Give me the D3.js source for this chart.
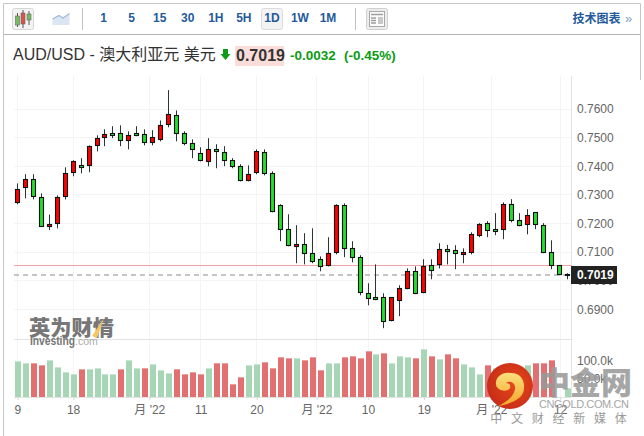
<!DOCTYPE html>
<html>
<head>
<meta charset="utf-8">
<title>AUD/USD</title>
<script src="https://d3js.org/d3.v7.min.js"></script>
<style>
html,body{margin:0;padding:0;background:#fff;}
svg{display:block;}
text{font-family:"Liberation Sans","Noto Sans CJK SC",sans-serif;}
</style>
</head>
<body>
<svg id="chart" width="644" height="436"></svg>
<script>
// Daily AUD/USD session prices
const open  = [.7274,.7326,.7354,.7291,.7190,.7201,.7295,.7379,.7403,.7403,.7473,.7501,.7515,.7515,.7491,.7515,.7512,.7484,.7494,.7547,.7578,.7515,.7480,.7445,.7417,.7459,.7449,.7421,.7400,.7351,.7379,.7449,.7375,.7263,.7180,.7120,.7127,.7096,.7075,.7054,.7099,.7263,.7113,.7082,.6956,.6942,.6942,.6862,.6932,.6974,.7033,.6960,.7054,.7057,.7110,.7106,.7092,.7099,.7159,.7201,.7180,.7180,.7267,.7211,.7197,.7239,.7194,.7099,.7054,.7024];
const high  = [.7340,.7372,.7372,.7305,.7231,.7298,.7396,.7421,.7428,.7473,.7508,.7529,.7540,.7543,.7522,.7540,.7529,.7526,.7560,.7666,.7595,.7522,.7494,.7466,.7498,.7477,.7470,.7428,.7407,.7403,.7459,.7459,.7382,.7267,.7232,.7194,.7166,.7183,.7085,.7152,.7267,.7270,.7138,.7089,.6991,.7057,.6956,.6943,.6984,.7043,.7050,.7075,.7075,.7131,.7125,.7124,.7113,.7169,.7201,.7208,.7236,.7274,.7285,.7236,.7250,.7239,.7201,.7141,.7054,.7026];
const low   = [.7267,.7288,.7284,.7189,.7177,.7183,.7284,.7365,.7375,.7379,.7452,.7470,.7498,.7470,.7459,.7505,.7473,.7473,.7487,.7536,.7487,.7473,.7428,.7417,.7400,.7393,.7400,.7393,.7347,.7347,.7372,.7368,.7239,.7138,.7120,.7061,.7057,.7061,.7033,.7050,.7092,.7082,.7064,.6949,.6914,.6932,.6834,.6858,.6876,.6970,.6953,.6956,.7005,.7043,.7057,.7040,.7061,.7092,.7152,.7152,.7159,.7145,.7204,.7190,.7162,.7180,.7096,.7040,.7019,.7005];
const close = [.7322,.7356,.7295,.7190,.7197,.7291,.7375,.7417,.7396,.7470,.7498,.7512,.7508,.7491,.7508,.7508,.7484,.7501,.7543,.7581,.7515,.7480,.7459,.7421,.7459,.7452,.7421,.7400,.7351,.7372,.7452,.7375,.7243,.7180,.7124,.7127,.7096,.7068,.7050,.7096,.7263,.7113,.7082,.6960,.6939,.6935,.6858,.6942,.6974,.7033,.6956,.7050,.7036,.7110,.7103,.7096,.7099,.7162,.7197,.7176,.7173,.7267,.7211,.7194,.7229,.7197,.7099,.7054,.7022,.7019];

// Session volume in thousands, and the colour family each bar uses
const volume = [97.4,91.2,93.8,85.8,99.2,83.1,69.7,61.7,75.1,75.1,77.8,61.7,64.3,75.1,99.2,77.8,80.4,88.5,72.4,67.0,75.1,64.3,69.7,64.3,77.8,91.2,93.8,34.9,56.3,85.8,88.5,96.5,80.4,109.9,107.2,104.6,99.2,109.9,72.4,93.8,91.2,109.9,112.6,107.2,126.0,115.3,120.6,93.8,112.6,109.9,107.2,128.7,112.6,101.9,115.3,104.6,88.5,83.1,61.7,85.8,80.4,80.4,76.0,71.5,85.8,91.2,91.2,99.2,0,26.8];
const volumeSide = "ggrrggggrggggrggrgggrrrrgrrrrggrrrrgrrrggrrrrgrgggrgrgrrgggrgggggrrrgg";

const priceTicks = [.69,.70,.71,.72,.73,.74,.75,.76];
const volumeTicks = [50,100];
const dateTickPositions = [0,7,16.56,23,30,37.53,44,51,59.47,68.1];
const dateTickLabels = ["9","18","月 '22","11","20","月 '22","10","19","月 '22","12"];
const intervals = ["1","5","15","30","1H","5H","1D","1W","1M"];

const lastPrice = 0.7019;
const previousClose = 0.7053;

const svg = d3.select("#chart");
const x = d3.scaleLinear().domain([0,69]).range([17.3,567.3]);
const y = d3.scaleLinear().domain([.69,.76]).range([309.3,109]);
const yVol = d3.scaleLinear().domain([0,100]).range([397.5,360.2]);
const snap = v => Math.floor(v)+.5;

const borderGrey = "#c6c6c6";
const gridGrey = "#f4f4f4";
const axisGrey = "#e2e2e2";
const linkBlue = "#255a9b";

// Frame and toolbar
const frame = svg.append("g").attr("fill","none");
frame.append("path").attr("stroke",borderGrey).attr("d","M3.5,436V3.5H640.5V80");
frame.append("path").attr("stroke","#b4b4b4").attr("d","M4,34.5H640");
frame.append("path").attr("stroke","#c0c0c0").attr("d","M82.5,8V30M355.5,8V30");

const bar = svg.append("g");
bar.append("rect").attr("x",12.5).attr("y",8.5).attr("width",21).attr("height",21).attr("rx",2)
  .attr("fill","#f3f3f3").attr("stroke","#d6d6d6");
const iconCandles = [[17.5,13,27,16,25,"#6fbf5f"],[23,10,28,13,24,"#e0504a"],[29,11,25,14,20,"#6fbf5f"]];
iconCandles.forEach(c=>{
  bar.append("line").attr("x1",c[0]).attr("x2",c[0]).attr("y1",c[1]).attr("y2",c[2]).attr("stroke","#555");
  bar.append("rect").attr("x",c[0]-2).attr("y",c[3]).attr("width",4).attr("height",c[4]-c[3]).attr("fill",c[5]).attr("stroke","#666").attr("stroke-width",.6);
});
bar.append("path").attr("d","M52.5,25V19L59,15.5L63,18L69.5,13.5V25Z").attr("fill","#dbe6f3");
bar.append("path").attr("d","M52.5,19L59,15.5L63,18L69.5,13.5").attr("fill","none").attr("stroke","#9dbbdd").attr("stroke-width",1.2);

bar.append("rect").attr("x",261.5).attr("y",8.5).attr("width",21).attr("height",21).attr("rx",2)
  .attr("fill","#f3f3f3").attr("stroke","#dcdcdc");
const intervalX = d3.scalePoint().domain(intervals).range([103.6,328]);
bar.selectAll("text.interval").data(intervals).join("text").attr("class","interval")
  .attr("x",d=>intervalX(d)).attr("y",22.3).attr("text-anchor","middle")
  .attr("font-size",12).attr("font-weight","bold").attr("fill",linkBlue).text(d=>d);

// Layout button
bar.append("rect").attr("x",366.5).attr("y",8.5).attr("width",21).attr("height",21).attr("rx",2)
  .attr("fill","#ececec").attr("stroke","#d0d0d0");
bar.append("rect").attr("x",369.5).attr("y",11.5).attr("width",15).attr("height",15).attr("fill","#fbfbfb").attr("stroke","#a8a8a8");
bar.append("path").attr("d","M371,14.5H383M371,18H376M371,20.5H376M371,23H376").attr("stroke","#a0a0a0").attr("stroke-width",1.4);
bar.append("rect").attr("x",378).attr("y",17).attr("width",5).attr("height",7).attr("fill","#c8c8c8");

bar.append("text").attr("x",572.5).attr("y",22.5).attr("font-size",12).attr("font-weight","bold")
  .attr("fill",linkBlue).text("技术图表");
bar.append("text").attr("x",625).attr("y",23).attr("font-size",13).attr("fill","#7f9fc8").text("»");

// Quote heading
const head = svg.append("g");
head.append("text").attr("x",13).attr("y",59.5).attr("font-size",16).attr("fill","#333").text("AUD/USD - 澳大利亚元 美元");
head.append("path").attr("d","M223,49H228V54H230.5L225.5,60L220.5,54H223Z").attr("fill","#0f9a1c");
head.append("rect").attr("x",235).attr("y",46).attr("width",49).attr("height",20).attr("fill","#fadcd8");
head.append("text").attr("x",236).attr("y",61).attr("font-size",16).attr("font-weight","bold").attr("fill","#333").text("0.7019");
head.append("text").attr("x",290).attr("y",60).attr("font-size",13.5).attr("font-weight","bold").attr("fill","#0a9c14").text("-0.0032");
head.append("text").attr("x",344).attr("y",60).attr("font-size",13.5).attr("font-weight","bold").attr("fill","#0a9c14").text("(-0.45%)");

// Grid lines behind the marks
const grid = svg.append("g").attr("stroke",gridGrey).attr("fill","none");
grid.selectAll("line.h").data(priceTicks).join("line").attr("class","h")
  .attr("x1",14).attr("x2",572).attr("y1",d=>snap(y(d))).attr("y2",d=>snap(y(d)));
grid.selectAll("line.v").data(dateTickPositions).join("line").attr("class","v")
  .attr("x1",d=>snap(x(d))).attr("x2",d=>snap(x(d))).attr("y1",76).attr("y2",397);

// Pane dividers and the right-hand axis rule
const rules = svg.append("g").attr("stroke",axisGrey).attr("fill","none");
rules.append("line").attr("x1",14).attr("x2",572).attr("y1",339.5).attr("y2",339.5);
rules.append("line").attr("x1",14).attr("x2",572).attr("y1",397.5).attr("y2",397.5);
rules.append("line").attr("x1",571.5).attr("x2",571.5).attr("y1",76).attr("y2",398);

// Investing watermark, under the marks
const brand = svg.append("g");
brand.append("text").attr("x",29).attr("y",335).attr("font-size",21).attr("font-weight","900")
  .attr("font-family","'Noto Sans CJK SC',sans-serif").attr("fill","#777")
  .attr("textLength",85).attr("lengthAdjust","spacingAndGlyphs").text("英为财情");
brand.append("path").attr("d","M92,336L104,318L97,338Z").attr("fill","#f7c561");
brand.append("text").attr("x",30).attr("y",345).attr("font-size",12).attr("font-weight","bold").attr("fill","#777")
  .attr("textLength",45).attr("lengthAdjust","spacingAndGlyphs").text("Investing");
brand.append("text").attr("x",75).attr("y",345).attr("font-size",10.5).attr("fill","#aaa").text(".com");

// Reference lines for the previous close and the last price
svg.append("line").attr("x1",14).attr("x2",572).attr("y1",snap(y(previousClose))).attr("y2",snap(y(previousClose)))
  .attr("stroke","#f2a3a3");
svg.append("line").attr("x1",14).attr("x2",572).attr("y1",snap(y(lastPrice))-.5).attr("y2",snap(y(lastPrice))-.5)
  .attr("stroke","#8c8c8c").attr("stroke-dasharray","5 4");

// Volume bars
const volGroup = svg.append("g");
const volFill = {g:"#a6d6b6",r:"#e27070"}, volCap = {g:"#c8e6d2",r:"#eda0a0"};
volume.forEach((v,i)=>{
  if(!v) return;
  const left = Math.floor(x(i))-2, top = Math.round(yVol(v));
  volGroup.append("rect").attr("x",left).attr("y",top).attr("width",6).attr("height",397-top).attr("fill",volFill[volumeSide[i]]);
  volGroup.append("rect").attr("x",left).attr("y",top).attr("width",6).attr("height",1).attr("fill",volCap[volumeSide[i]]);
});

// Candles: red closes higher, green closes lower
const candles = d3.range(open.length).map(i=>({i,o:open[i],h:high[i],l:low[i],c:close[i]}));
const cg = svg.append("g").selectAll("g").data(candles).join("g");
cg.append("line").attr("x1",d=>snap(x(d.i))).attr("x2",d=>snap(x(d.i)))
  .attr("y1",d=>y(d.h)).attr("y2",d=>y(d.l)).attr("stroke","#2c3535").attr("stroke-width",1);
cg.append("rect").attr("x",d=>snap(x(d.i))-2).attr("width",4)
  .attr("y",d=>Math.round(y(Math.max(d.o,d.c)))+.5)
  .attr("height",d=>Math.max(1,Math.round(y(Math.min(d.o,d.c)))-Math.round(y(Math.max(d.o,d.c)))))
  .attr("fill",d=>d.c>=d.o?"#ff0000":"#26dd2e").attr("stroke","#111").attr("stroke-width",1.1);

// Axes
const styleAxis = g=>{
  g.select(".domain").remove();
  g.selectAll("text").attr("font-family","Roboto,'Noto Sans CJK SC',sans-serif").attr("font-size",12).attr("fill","#666");
};
svg.append("g").attr("transform","translate(572,0)")
  .call(d3.axisRight(y).tickValues(priceTicks).tickFormat(d3.format(".4f")).tickSize(0).tickPadding(5))
  .call(styleAxis);
svg.append("g").attr("transform","translate(572,0)")
  .call(d3.axisRight(yVol).tickValues(volumeTicks).tickFormat(d=>d.toFixed(1)+"k").tickSize(0).tickPadding(5))
  .call(styleAxis);
const xAxis = svg.append("g").attr("transform","translate(0,397)")
  .call(d3.axisBottom(x).tickValues(dateTickPositions).tickFormat((d,i)=>dateTickLabels[i]).tickSize(3).tickPadding(5))
  .call(styleAxis);
xAxis.selectAll("line").attr("stroke","#d8d8d8").attr("transform","translate(.2,0)");

// Last price flag on the axis
svg.append("rect").attr("x",571).attr("y",266).attr("width",46).attr("height",18).attr("fill","#222");
svg.append("text").attr("x",577).attr("y",279).attr("font-family","Roboto,sans-serif").attr("font-size",12).attr("font-weight","bold")
  .attr("fill","#fff").text(d3.format(".4f")(lastPrice));

// CNGOLD badge and wordmark in the corner
const defs = svg.append("defs");
const red = defs.append("radialGradient").attr("id","badgeRed").attr("cx","60%").attr("cy","45%").attr("r","65%");
red.append("stop").attr("offset","0").attr("stop-color","#e8481a");
red.append("stop").attr("offset","1").attr("stop-color","#c42a18");
const gold = defs.append("linearGradient").attr("id","badgeGold").attr("x1",0).attr("y1",0).attr("x2",0).attr("y2",1);
gold.append("stop").attr("offset","0").attr("stop-color","#fbe07c");
gold.append("stop").attr("offset","1").attr("stop-color","#f4a52a");
const badge = svg.append("g").attr("transform","translate(510,386)");
badge.append("circle").attr("r",23).attr("fill","url(#badgeRed)");
badge.append("path").attr("fill","url(#badgeGold)")
  .attr("d","M-14,-1C-15,-9 -8,-14 0,-13C8,-14 15,-8 14,2C14,11 5,17 -12,20C-2,15 4,10 5,3C6,-3 0,-6 -4,-3C-1,-3 1,-1 0,2C-2,6 -12,6 -14,-1Z");

svg.append("text").attr("x",539).attr("y",394).attr("font-size",31).attr("font-weight","900")
  .attr("font-family","'Noto Sans CJK SC',sans-serif").attr("fill","#9a9a9a").attr("fill-opacity",.88).text("中金网");
svg.append("text").attr("x",539).attr("y",408).attr("font-size",11).attr("fill","#a6a6a6").attr("textLength",90).text("CNGOLD.COM.CN");
const tagline = ["中","文","财","经","新","媒","体"];
const tagX = d3.scalePoint().domain(tagline).range([496.3,620.7]);
svg.append("g").selectAll("text").data(tagline).join("text")
  .attr("x",d=>tagX(d)).attr("y",423).attr("text-anchor","middle").attr("font-size",12)
  .attr("font-family","'Noto Sans CJK SC',sans-serif").attr("fill","#999").text(d=>d);
</script>
</body>
</html>
